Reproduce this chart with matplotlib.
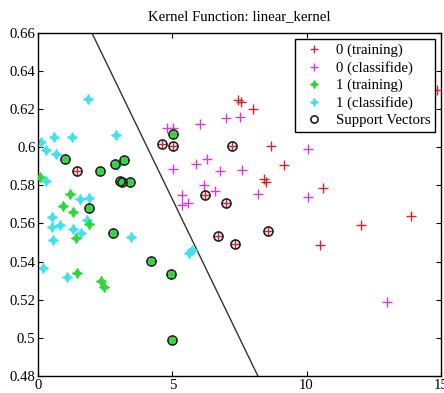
import matplotlib
matplotlib.use("Agg")
import matplotlib.pyplot as plt
import numpy as np

plt.rcParams['font.family'] = ['Liberation Serif', 'DejaVu Serif']
plt.rcParams['mathtext.fontset'] = 'stix'

# class 0 training (red +)
c0_train_x = [7.45, 7.55, 7.99, 14.88, 8.68, 9.16, 8.40, 8.50, 10.60, 10.49, 12.01, 13.90,
              1.45, 4.62, 5.03, 7.22, 6.21, 6.98, 6.71, 7.33, 8.57]
c0_train_y = [0.6244, 0.6234, 0.6200, 0.6298, 0.6006, 0.5906, 0.5831, 0.5815, 0.5786, 0.5490, 0.5594, 0.5641,
              0.5874, 0.6017, 0.6007, 0.6005, 0.5751, 0.5706, 0.5534, 0.5493, 0.5563]

# class 0 classified (magenta +)
c0_cls_x = [4.78, 5.03, 6.04, 7.00, 7.50, 5.03, 5.86, 6.28, 6.76, 7.60, 10.06, 6.19, 6.60,
            5.35, 5.35, 5.57, 8.18, 10.06, 12.99]
c0_cls_y = [0.6098, 0.6098, 0.6119, 0.6150, 0.6158, 0.5884, 0.5914, 0.5936, 0.5875, 0.5879, 0.5989, 0.5804, 0.5768,
            0.5749, 0.5695, 0.5705, 0.5752, 0.5738, 0.5191]

# class 1 training (green *)
c1_train_x = [0.08, 1.19, 0.91, 1.29, 1.42, 1.89, 1.46, 2.34, 2.46,
              1.01, 2.29, 2.86, 3.21, 3.05, 3.13, 3.43, 5.02, 1.90, 2.80, 4.19, 4.95, 4.99]
c1_train_y = [0.5842, 0.5755, 0.5691, 0.5660, 0.5522, 0.5597, 0.5343, 0.5301, 0.5266,
              0.5936, 0.5875, 0.5912, 0.5932, 0.5820, 0.5815, 0.5819, 0.6066, 0.5679, 0.5550, 0.5403, 0.5333, 0.4992]

# class 1 classified (cyan *)
c1_cls_x = [1.84, 0.10, 0.29, 0.60, 0.66, 1.27, 2.89, 2.92, 0.29, 1.55, 1.89, 0.52, 0.50, 0.82,
            0.56, 1.29, 1.59, 1.83, 3.45, 0.19, 1.07, 5.72, 5.62]
c1_cls_y = [0.6250, 0.6027, 0.5984, 0.6051, 0.5964, 0.6052, 0.6062, 0.5905, 0.5823, 0.5729, 0.5736, 0.5634, 0.5581, 0.5590,
            0.5516, 0.5569, 0.5550, 0.5617, 0.5529, 0.5366, 0.5319, 0.5459, 0.5445]

# support vectors
sv_x = [1.45, 4.62, 5.03, 7.22, 6.21, 6.98, 6.71, 7.33, 8.57,
        1.01, 2.29, 2.86, 3.21, 3.05, 3.13, 3.43, 5.02, 1.90, 2.80, 4.19, 4.95, 4.99]
sv_y = [0.5874, 0.6017, 0.6007, 0.6005, 0.5751, 0.5706, 0.5534, 0.5493, 0.5563,
        0.5936, 0.5875, 0.5912, 0.5932, 0.5820, 0.5815, 0.5819, 0.6066, 0.5679, 0.5550, 0.5403, 0.5333, 0.4992]

# separating line endpoints
boundary_x = [1.99, 8.19]
boundary_y = [0.66, 0.48]

x_ticks = [0, 5, 10, 15]
y_ticks = [0.48, 0.50, 0.52, 0.54, 0.56, 0.58, 0.60, 0.62, 0.64, 0.66]
y_tick_labels = ['0.48', '0.5', '0.52', '0.54', '0.56', '0.58', '0.6', '0.62', '0.64', '0.66']

fig = plt.figure(figsize=(4.44, 3.93), dpi=100)
ax = fig.add_axes([0.0863, 0.0425, 0.9063, 0.8748])

red = '#d8232a'
magenta = '#d43ad4'
green = '#2fd83a'
cyan = '#3fe3ef'

star4 = (4, 1, 0)

ax.plot(c0_train_x, c0_train_y, linestyle='none', marker='+', color=red, ms=7.2, mew=1.0,
        label='0 (training)', zorder=3)
ax.plot(c0_cls_x, c0_cls_y, linestyle='none', marker='+', color=magenta, ms=7.2, mew=1.0,
        label='0 (classifide)', zorder=3)
ax.plot(c1_train_x, c1_train_y, linestyle='none', marker=star4, color=green, ms=7.5, mew=0.6,
        label='1 (training)', zorder=3)
ax.plot(c1_cls_x, c1_cls_y, linestyle='none', marker=star4, color=cyan, ms=7.5, mew=0.6,
        label='1 (classifide)', zorder=2)
ax.plot(sv_x, sv_y, linestyle='none', marker='o', mfc='none', mec='#222222', ms=6.5, mew=1.2,
        label='Support Vectors', zorder=4)
ax.plot(boundary_x, boundary_y, color='#333333', lw=1.0, zorder=1)

ax.set_xlim(0, 15)
ax.set_ylim(0.48, 0.66)
ax.set_xticks(x_ticks)
ax.set_yticks(y_ticks)
ax.set_yticklabels(y_tick_labels)
ax.tick_params(direction='in', top=True, right=True, length=3.5, width=0.8, labelsize=10.6, pad=2)
for s in ax.spines.values():
    s.set_linewidth(1.0)
ax.set_title('Kernel Function: linear_kernel', fontsize=10.6, pad=9)

leg = ax.legend(loc='upper right', bbox_to_anchor=(0.985, 0.980), borderaxespad=0,
                fontsize=10.6, fancybox=False, edgecolor='black', framealpha=1,
                labelspacing=0.26, handlelength=2.0, handletextpad=0.45, borderpad=0.3,
                markerscale=0.8)
leg.get_frame().set_linewidth(1.0)

fig.savefig('out.png', dpi=100)
